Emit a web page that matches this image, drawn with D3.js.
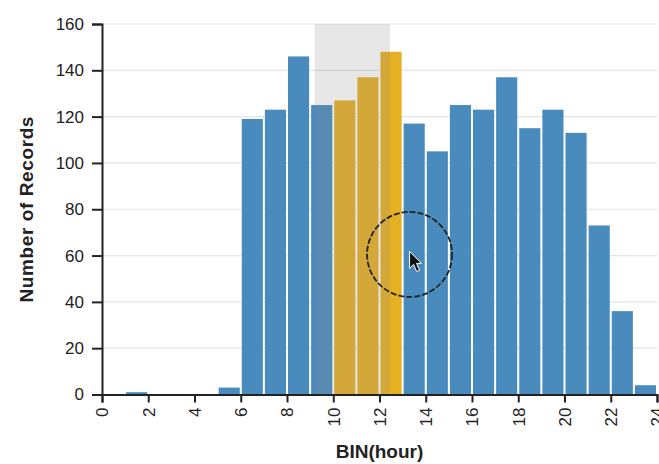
<!DOCTYPE html>
<html><head><meta charset="utf-8">
<script src="https://cdn.jsdelivr.net/npm/d3@7"></script>
<style>
html,body{margin:0;padding:0;background:#fff;}
svg{display:block;font-family:"Liberation Sans",Arial,Helvetica,sans-serif;}
</style></head>
<body><svg id="chart" width="659" height="464"></svg>
<script>
// ---- data ----
const binStarts = [0,1,2,3,4,5,6,7,8,9,10,11,12,13,14,15,16,17,18,19,20,21,22,23];
const counts    = [0,1,0,0,0,3,119,123,146,125,127,137,148,117,105,125,123,137,115,123,113,73,36,4];
const selectedBins = [10,11,12];
const brushExtent = [9.2, 12.45];
const xTicks = [0,2,4,6,8,10,12,14,16,18,20,22,24];
const yTicks = [0,20,40,60,80,100,120,140,160];
const xTitle = "BIN(hour)";
const yTitle = "Number of Records";
const cursorAt = [13.3, 60.5];

const svg = d3.select("#chart");
const margin = {left:102, top:24, right:2, bottom:69.5};
const W = 659, H = 464;
const x = d3.scaleLinear().domain([0,24]).range([margin.left, W - margin.right]);
const y = d3.scaleLinear().domain([0,160]).range([H - margin.bottom, margin.top]);

// grid
svg.append("g").selectAll("line").data(yTicks).join("line")
  .attr("x1", x(0)).attr("x2", x(24))
  .attr("y1", d => y(d)).attr("y2", d => y(d))
  .attr("stroke", "#e4e4e4").attr("stroke-width", 1.2);

// bars
const data = binStarts.map((b,i) => ({b, v: counts[i]}));
svg.append("g").selectAll("rect").data(data.filter(d => d.v > 0)).join("rect")
  .attr("x", d => x(d.b) + 1)
  .attr("width", d => x(d.b + 1) - x(d.b) - 2)
  .attr("y", d => y(d.v))
  .attr("height", d => y(0) - y(d.v))
  .attr("fill", d => selectedBins.includes(d.b) ? "#e6b023" : "#4a8bbe");

// brush overlay
svg.append("rect")
  .attr("x", x(brushExtent[0])).attr("width", x(brushExtent[1]) - x(brushExtent[0]))
  .attr("y", y(160)).attr("height", y(0) - y(160))
  .attr("fill", "#8f8f8f").attr("fill-opacity", 0.21);

// x axis
const xAxis = svg.append("g").attr("transform", `translate(0,${y(0)})`)
  .call(d3.axisBottom(x).tickValues(xTicks).tickSize(8).tickPadding(5).tickFormat(d3.format("d")));
xAxis.select(".domain").attr("stroke", "#222").attr("stroke-width", 2);
xAxis.selectAll(".tick line").attr("stroke", "#222").attr("stroke-width", 2);
xAxis.selectAll(".tick text")
  .attr("font-size", 17).attr("fill", "#222")
  .attr("transform", "rotate(-90)")
  .attr("text-anchor", "end")
  .attr("x", -13).attr("y", 0).attr("dy", "0.35em");

// y axis
const yAxis = svg.append("g").attr("transform", `translate(${x(0)},0)`)
  .call(d3.axisLeft(y).tickValues(yTicks).tickSize(10).tickPadding(8));
yAxis.select(".domain").attr("stroke", "#222").attr("stroke-width", 2);
yAxis.selectAll(".tick line").attr("stroke", "#222").attr("stroke-width", 2);
yAxis.selectAll(".tick text").attr("font-size", 17).attr("fill", "#222");

// titles
svg.append("text").text(xTitle)
  .attr("x", (x(0)+x(24))/2).attr("y", 458)
  .attr("text-anchor", "middle").attr("font-size", 19).attr("font-weight", "bold").attr("fill", "#222");
svg.append("text").text(yTitle)
  .attr("transform", `translate(33,${(y(0)+y(160))/2}) rotate(-90)`)
  .attr("text-anchor", "middle").attr("font-size", 19).attr("font-weight", "bold").attr("fill", "#222")
  .attr("letter-spacing", 0.6);

// cursor highlight decoration
const cx = x(cursorAt[0]), cy = y(cursorAt[1]);
svg.append("circle").attr("cx", cx).attr("cy", cy).attr("r", 42.5)
  .attr("fill", "none").attr("stroke", "#222").attr("stroke-width", 1.8)
  .attr("stroke-dasharray", "6,2");
svg.append("path")
  .attr("transform", `translate(${cx},${cy - 3})`)
  .attr("d", "M0,0 L0,17 L4,13 L7,20 L10,19 L7,12 L12,12 Z")
  .attr("fill", "#111").attr("stroke", "#fff").attr("stroke-width", 1);
</script>
</body></html>
